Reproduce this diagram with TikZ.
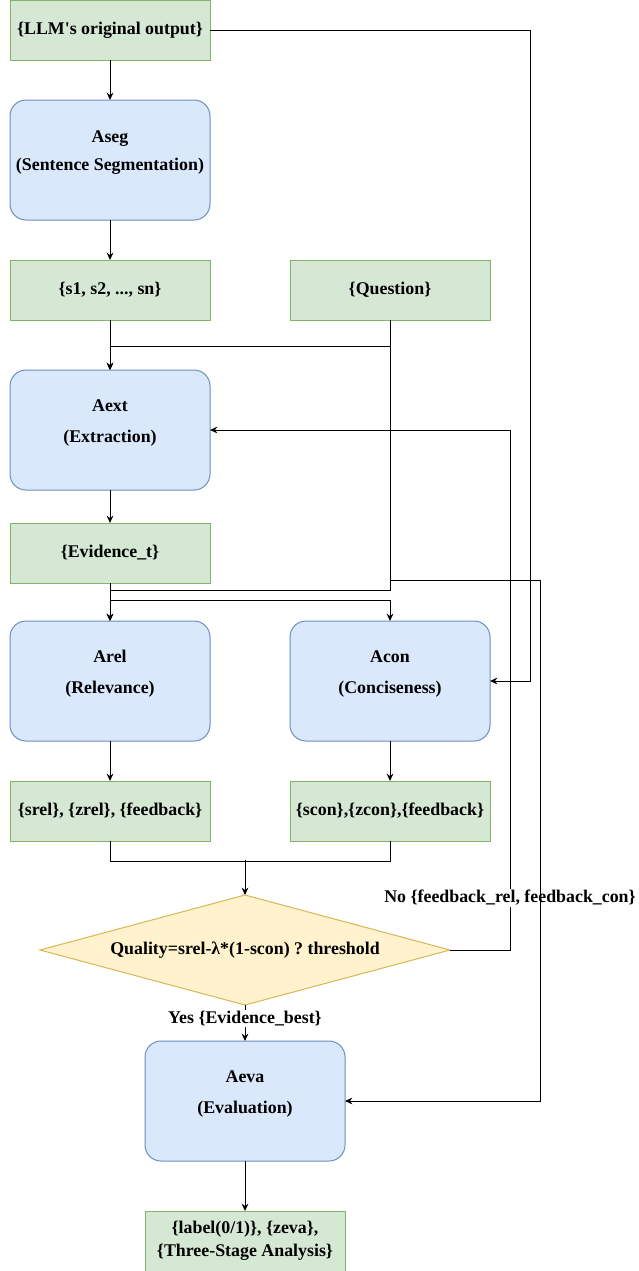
\documentclass[tikz,border=0pt]{standalone}
\usepackage{fontspec}
\setmainfont{Liberation Serif}
\frenchspacing
\usetikzlibrary{positioning,arrows.meta,shapes.geometric}
\definecolor{datafill}{HTML}{D5E8D4}
\definecolor{dataline}{HTML}{82B366}
\definecolor{agentfill}{HTML}{DAE8FC}
\definecolor{agentline}{HTML}{6C8EBF}
\definecolor{checkfill}{HTML}{FFF2CC}
\definecolor{checkline}{HTML}{D6B656}
\newcommand{\agenttext}[3][7pt]{#2\\[#1]#3\\[-2.5pt]\mbox{}}
\tikzset{
  databox/.style={draw=dataline,fill=datafill,minimum width=150pt,minimum height=45pt,inner sep=2pt,outer sep=0pt,align=center,yshift=0pt},
  agentbox/.style={draw=agentline,fill=agentfill,rounded corners=12pt,minimum width=150pt,minimum height=90pt,inner sep=2pt,outer sep=0pt,align=center},
  decision/.style={diamond,draw=checkline,fill=checkfill,shape aspect=3.7,minimum width=307.5pt,minimum height=82.5pt,inner sep=0pt,outer sep=0pt},
  edgelabel/.style={fill=white,inner sep=1pt},
  >={Stealth[length=5.5pt,width=5pt]},
}

\begin{document}
\begin{tikzpicture}[x=0.75pt,y=-0.75pt,line width=0.75pt,font=\fontsize{13.4}{16}\selectfont\bfseries]
  \useasboundingbox (0,0) rectangle (639,1271);
  \node[databox]                   (llm)    at (110,30) {\{LLM\textquotesingle s original output\}};
  \node[agentbox,below=30pt of llm]     (aseg)   {\agenttext[5pt]{Aseg}{(Sentence Segmentation)}};
  \node[databox,below=30pt of aseg]     (sents)  {\{s1, s2, ..., sn\}};
  \node[databox,right=60pt of sents]    (quest)  {\{Question\}};
  \node[agentbox,below=37.5pt of sents] (aext)   {\agenttext{Aext}{(Extraction)}};
  \node[databox,below=24.75pt of aext]  (evid)   {\{Evidence\_t\}};
  \node[agentbox,below=28.5pt of evid]  (arel)   {\agenttext{Arel}{(Relevance)}};
  \node[agentbox,right=60pt of arel]    (acon)   {\agenttext{Acon}{(Conciseness)}};
  \node[databox,below=30pt of arel]     (relout) {\{srel\}, \{zrel\}, \{feedback\}};
  \node[databox,below=30pt of acon]     (conout) {\{scon\},\{zcon\},\{feedback\}};
  \node[decision]                  (check)  at (245,950) {Quality=srel-λ*(1-scon) ? threshold};
  \node[agentbox,below=27pt of check]   (aeva)   {\agenttext{Aeva}{(Evaluation)}};
  \node[databox,below=37.5pt of aeva]   (result) {\{label(0/1)\}, \{zeva\},\\[1pt]\{Three-Stage Analysis\}};

  \draw[->] (llm) -- (aseg);
  \draw[->] (llm.east) -| ([xshift=30pt]acon.east) -- (acon.east);
  \draw[->] (aseg) -- (sents);
  \draw[->] (sents) -- (aext);
  \draw[->] (quest.south) -- ++(0,26) -| (aext.north);
  \draw[->] (aext) -- (evid);
  \draw[->] (quest.south) -- ++(0,270) -| (arel.north);
  \draw[->] (evid) -- (arel);
  \draw[->] (evid.south) -- ++(0,17) -| (acon.north);
  \draw[->] (arel) -- (relout);
  \draw[->] (acon) -- (conout);
  \draw (relout.south) -- ++(0,20) -| (conout.south);
  \draw[->] (check.north) ++(0,-35) -- (check.north);
  \draw[->] (check.east) -| node[edgelabel,pos=0.55] {No \{feedback\_rel, feedback\_con\}} ([xshift=15pt]acon.east |- aext.east) -- (aext.east);
  \draw[->] (check) -- node[edgelabel,pos=0.37] {Yes \{Evidence\_best\}} (aeva);
  \draw[->] (quest.south) ++(0,260) -| ([xshift=37.5pt]acon.east |- aeva.east) -- (aeva.east);
  \draw[->] (aeva) -- (result);
\end{tikzpicture}
\end{document}
